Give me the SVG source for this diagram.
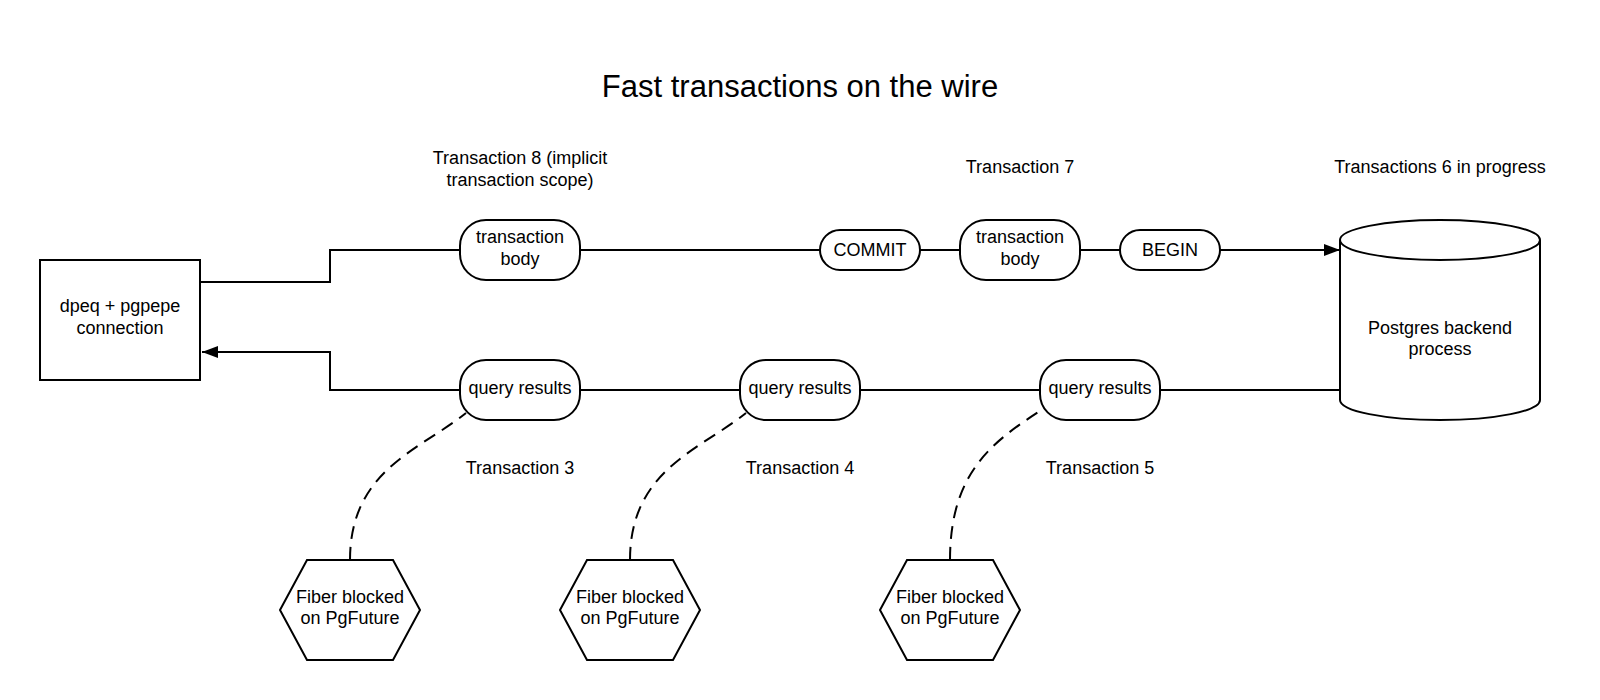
<svg xmlns="http://www.w3.org/2000/svg" width="1600" height="700" viewBox="0 0 1600 700">
<style>
text{font-family:"Liberation Sans",Arial,sans-serif;font-size:18px;fill:#000;text-anchor:middle}
.title{font-size:31px}
.shape{fill:#fff;stroke:#000;stroke-width:2}
.line{fill:none;stroke:#000;stroke-width:2}
.dash{fill:none;stroke:#000;stroke-width:2;stroke-dasharray:13 8}
</style>
<defs>
<marker id="arr" markerWidth="16" markerHeight="12" refX="16" refY="6" orient="auto" markerUnits="userSpaceOnUse">
<path d="M0,0 L16,6 L0,12 Z" fill="#000"/>
</marker>
</defs>
<rect width="1600" height="700" fill="#fff"/>
<text class="title" x="800" y="97">Fast transactions on the wire</text>
<text x="520" y="164">Transaction 8 (implicit</text>
<text x="520" y="186">transaction scope)</text>
<text x="1020" y="173">Transaction 7</text>
<text x="1440" y="173">Transactions 6 in progress</text>
<text x="520" y="474">Transaction 3</text>
<text x="800" y="474">Transaction 4</text>
<text x="1100" y="474">Transaction 5</text>
<g id="connectors">
<path class="line" d="M200,282 H330 V250 H460"/>
<path class="line" d="M580,250 H820"/>
<path class="line" d="M920,250 H960"/>
<path class="line" d="M1080,250 H1120"/>
<path class="line" d="M1220,250 H1340" marker-end="url(#arr)"/>
<path class="line" d="M1340,390 H1160"/>
<path class="line" d="M1040,390 H860"/>
<path class="line" d="M740,390 H580"/>
<path class="line" d="M460,390 H330 V352 H202" marker-end="url(#arr)"/>
<path class="dash" d="M350,560 C350,470 420,450 466,413"/>
<path class="dash" d="M630,560 C630,470 700,450 746,413"/>
<path class="dash" d="M950,560 C950,470 995,440 1046,407"/>
</g>
<g id="client">
<rect class="shape" x="40" y="260" width="160" height="120"/>
<text x="120" y="312">dpeq + pgpepe</text>
<text x="120" y="334">connection</text>
</g>
<g id="tx8-body">
<rect class="shape" x="460" y="220" width="120" height="60" rx="26" ry="26"/>
<text x="520" y="243">transaction</text>
<text x="520" y="265">body</text>
</g>
<g id="commit">
<rect class="shape" x="820" y="230" width="100" height="40" rx="20" ry="20"/>
<text x="870" y="256">COMMIT</text>
</g>
<g id="tx7-body">
<rect class="shape" x="960" y="220" width="120" height="60" rx="26" ry="26"/>
<text x="1020" y="243">transaction</text>
<text x="1020" y="265">body</text>
</g>
<g id="begin">
<rect class="shape" x="1120" y="230" width="100" height="40" rx="20" ry="20"/>
<text x="1170" y="256">BEGIN</text>
</g>
<g id="postgres">
<path class="shape" d="M1340,240 A100,20 0 0 1 1540,240 V400 A100,20 0 0 1 1340,400 Z"/>
<path class="line" d="M1340,240 A100,20 0 0 0 1540,240"/>
<text x="1440" y="334">Postgres backend</text>
<text x="1440" y="355">process</text>
</g>
<g id="qr3">
<rect class="shape" x="460" y="360" width="120" height="60" rx="26" ry="26"/>
<text x="520" y="394">query results</text>
</g>
<g id="qr4">
<rect class="shape" x="740" y="360" width="120" height="60" rx="26" ry="26"/>
<text x="800" y="394">query results</text>
</g>
<g id="qr5">
<rect class="shape" x="1040" y="360" width="120" height="60" rx="26" ry="26"/>
<text x="1100" y="394">query results</text>
</g>
<g id="fiber3">
<polygon class="shape" points="307,560 393,560 420,610 393,660 307,660 280,610"/>
<text x="350" y="603">Fiber blocked</text>
<text x="350" y="624">on PgFuture</text>
</g>
<g id="fiber4">
<polygon class="shape" points="587,560 673,560 700,610 673,660 587,660 560,610"/>
<text x="630" y="603">Fiber blocked</text>
<text x="630" y="624">on PgFuture</text>
</g>
<g id="fiber5">
<polygon class="shape" points="907,560 993,560 1020,610 993,660 907,660 880,610"/>
<text x="950" y="603">Fiber blocked</text>
<text x="950" y="624">on PgFuture</text>
</g>
</svg>
